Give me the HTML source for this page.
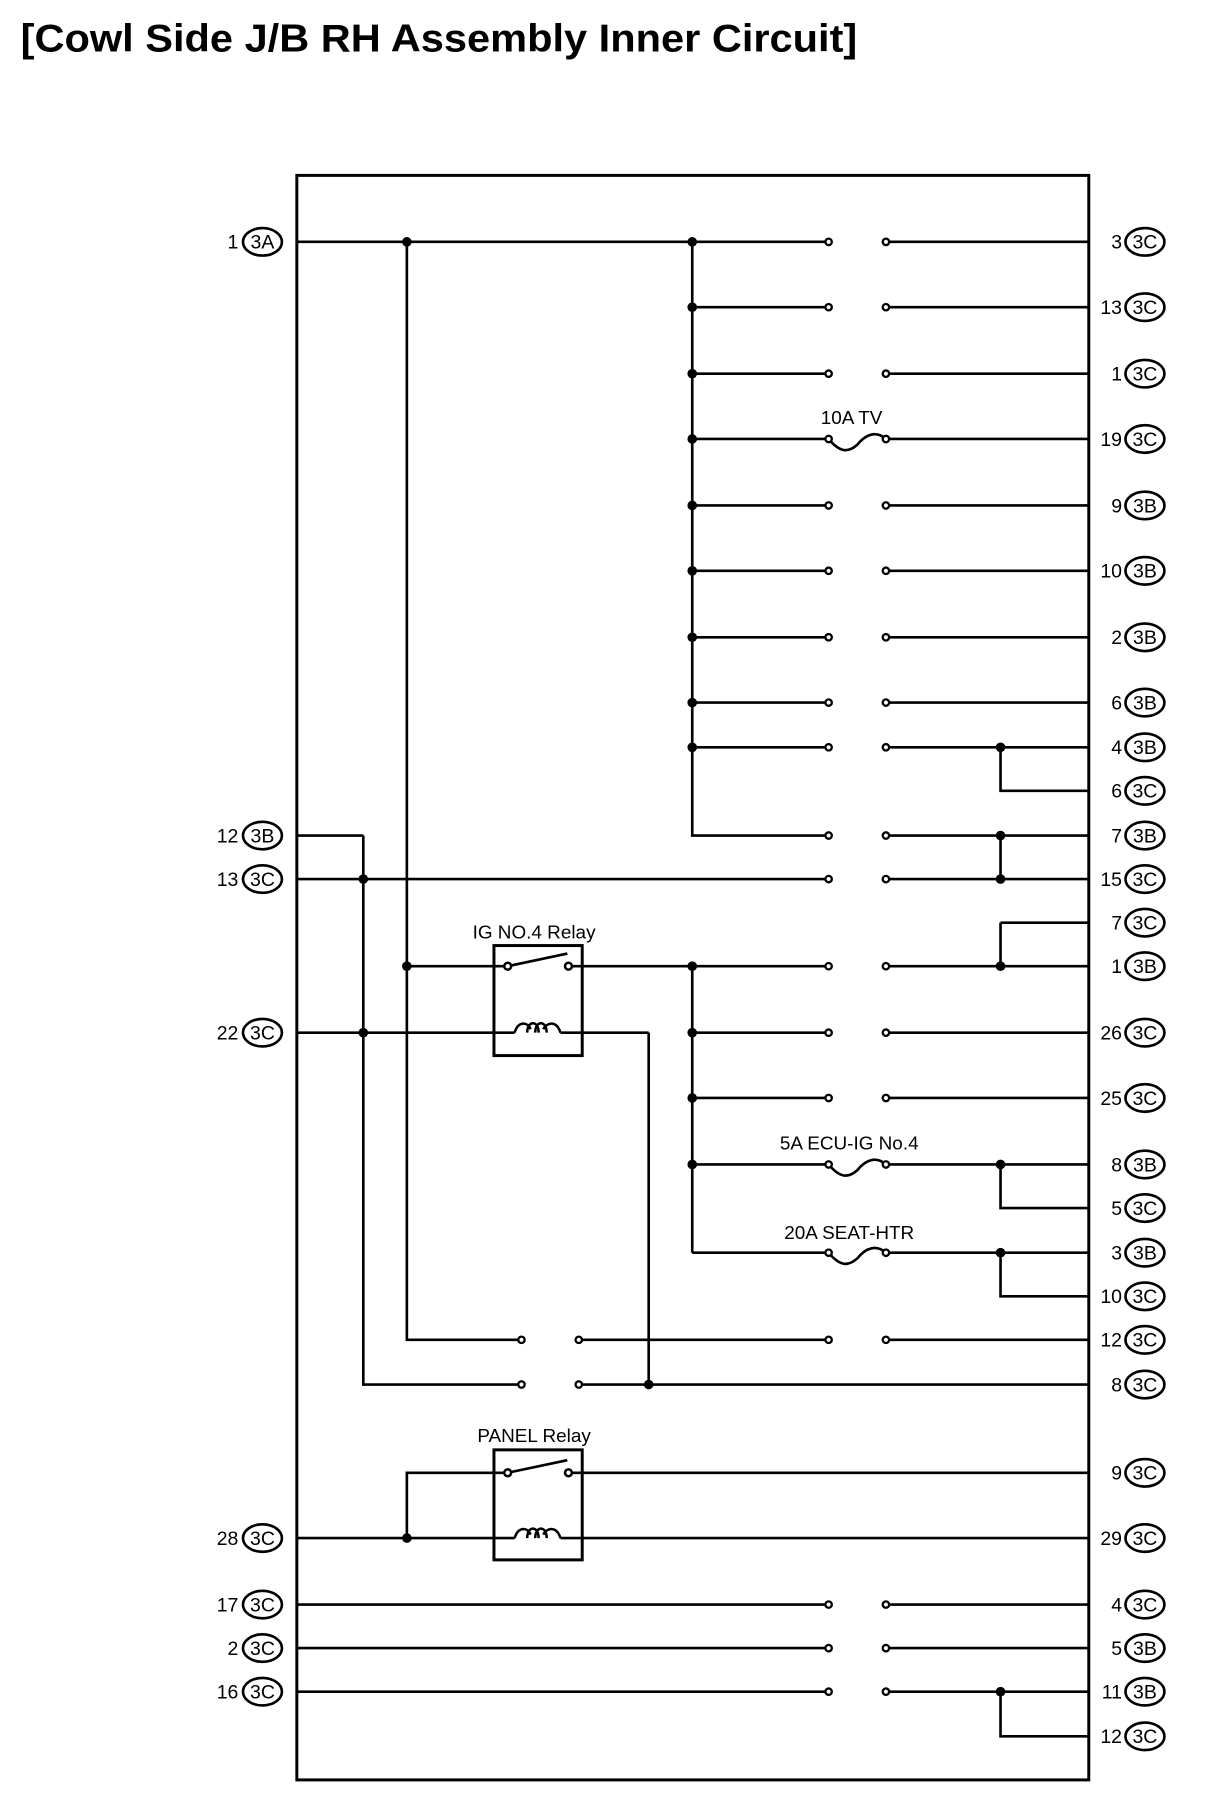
<!DOCTYPE html>
<html><head><meta charset="utf-8"><style>html,body{margin:0;padding:0;background:#fff}svg{display:block}</style></head>
<body>
<svg width="1216" height="1796" viewBox="0 0 1061 1567" xmlns="http://www.w3.org/2000/svg" font-family="Liberation Sans, sans-serif">
<text x="18" y="45" font-size="34" font-weight="bold" textLength="730" lengthAdjust="spacingAndGlyphs">[Cowl Side J/B RH Assembly Inner Circuit]</text>
<rect x="259" y="153" width="691" height="1400" fill="none" stroke="#000" stroke-width="2.6"/>
<g stroke="#000" stroke-width="2.3" fill="none">
<path d="M604 211V729H723"/>
<path d="M355 211V1169H455"/>
<path d="M317 729V1208H455"/>
<path d="M259 729H317"/>
<path d="M566 901V1208"/>
<path d="M604 843V1093"/>
<path d="M259 211H723M773 211H950"/>
<path d="M604 268H723M773 268H950"/>
<path d="M604 326H723M773 326H950"/>
<path d="M604 383H723M773 383H950"/>
<path d="M723 383C733 395 740 395 748 388C756 378 765 376 773 383"/>
<path d="M604 441H723M773 441H950"/>
<path d="M604 498H723M773 498H950"/>
<path d="M604 556H723M773 556H950"/>
<path d="M604 613H723M773 613H950"/>
<path d="M604 652H723M773 652H950M873 652V690H950"/>
<path d="M773 729H950M873 729V767"/>
<path d="M259 767H723M773 767H950"/>
<path d="M873 805H950M873 805V843"/>
<path d="M355 843H443M496 843H723M773 843H950"/>
<path d="M443 843L495 832"/>
<path d="M259 901H449M489 901H566"/>
<path d="M604 901H723M773 901H950"/>
<path d="M604 958H723M773 958H950"/>
<path d="M604 1016H723M773 1016H950M873 1016V1054H950"/>
<path d="M723 1016C733 1028 740 1028 748 1021C756 1011 765 1009 773 1016"/>
<path d="M604 1093H723M773 1093H950M873 1093V1131H950"/>
<path d="M723 1093C733 1105 740 1105 748 1098C756 1088 765 1086 773 1093"/>
<path d="M505 1169H723M773 1169H950"/>
<path d="M505 1208H950"/>
<path d="M355 1342V1285H443M443 1285L495 1274M496 1285H950"/>
<path d="M259 1342H449M489 1342H950"/>
<path d="M259 1400H723M773 1400H950"/>
<path d="M259 1438H723M773 1438H950"/>
<path d="M259 1476H723M773 1476H950M873 1476V1515H950"/>
</g>
<g stroke="#000" stroke-width="2.6" fill="none">
<rect x="431" y="825" width="77" height="96"/>
<rect x="431" y="1265" width="77" height="96"/>
</g>
<g stroke="#000" stroke-width="2.2" fill="#fff">
<path d="M449 901C452 891 460 891 463 898M460 901C460 890 470 890 470 901M467 901C467 890 477 890 477 901M474 898C478 891 486 891 489 901" fill="none"/>
<path d="M449 1342C452 1332 460 1332 463 1339M460 1342C460 1331 470 1331 470 1342M467 1342C467 1331 477 1331 477 1342M474 1339C478 1332 486 1332 489 1342" fill="none"/>
<circle cx="443" cy="843" r="3"/><circle cx="496" cy="843" r="3"/>
<circle cx="443" cy="1285" r="3"/><circle cx="496" cy="1285" r="3"/>
</g>
<g stroke="#000" stroke-width="2" fill="#fff">
<circle cx="723" cy="211" r="2.8"/><circle cx="773" cy="211" r="2.8"/>
<circle cx="723" cy="268" r="2.8"/><circle cx="773" cy="268" r="2.8"/>
<circle cx="723" cy="326" r="2.8"/><circle cx="773" cy="326" r="2.8"/>
<circle cx="723" cy="383" r="2.8"/><circle cx="773" cy="383" r="2.8"/>
<circle cx="723" cy="441" r="2.8"/><circle cx="773" cy="441" r="2.8"/>
<circle cx="723" cy="498" r="2.8"/><circle cx="773" cy="498" r="2.8"/>
<circle cx="723" cy="556" r="2.8"/><circle cx="773" cy="556" r="2.8"/>
<circle cx="723" cy="613" r="2.8"/><circle cx="773" cy="613" r="2.8"/>
<circle cx="723" cy="652" r="2.8"/><circle cx="773" cy="652" r="2.8"/>
<circle cx="723" cy="729" r="2.8"/><circle cx="773" cy="729" r="2.8"/>
<circle cx="723" cy="767" r="2.8"/><circle cx="773" cy="767" r="2.8"/>
<circle cx="723" cy="843" r="2.8"/><circle cx="773" cy="843" r="2.8"/>
<circle cx="723" cy="901" r="2.8"/><circle cx="773" cy="901" r="2.8"/>
<circle cx="723" cy="958" r="2.8"/><circle cx="773" cy="958" r="2.8"/>
<circle cx="723" cy="1016" r="2.8"/><circle cx="773" cy="1016" r="2.8"/>
<circle cx="723" cy="1093" r="2.8"/><circle cx="773" cy="1093" r="2.8"/>
<circle cx="455" cy="1169" r="2.8"/><circle cx="505" cy="1169" r="2.8"/>
<circle cx="723" cy="1169" r="2.8"/><circle cx="773" cy="1169" r="2.8"/>
<circle cx="455" cy="1208" r="2.8"/><circle cx="505" cy="1208" r="2.8"/>
<circle cx="723" cy="1400" r="2.8"/><circle cx="773" cy="1400" r="2.8"/>
<circle cx="723" cy="1438" r="2.8"/><circle cx="773" cy="1438" r="2.8"/>
<circle cx="723" cy="1476" r="2.8"/><circle cx="773" cy="1476" r="2.8"/>
</g>
<g fill="#000">
<circle cx="355" cy="211" r="4.2"/><circle cx="604" cy="211" r="4.2"/>
<circle cx="604" cy="268" r="4.2"/><circle cx="604" cy="326" r="4.2"/><circle cx="604" cy="383" r="4.2"/>
<circle cx="604" cy="441" r="4.2"/><circle cx="604" cy="498" r="4.2"/><circle cx="604" cy="556" r="4.2"/>
<circle cx="604" cy="613" r="4.2"/><circle cx="604" cy="652" r="4.2"/><circle cx="873" cy="652" r="4.2"/>
<circle cx="873" cy="729" r="4.2"/><circle cx="873" cy="767" r="4.2"/><circle cx="317" cy="767" r="4.2"/>
<circle cx="355" cy="843" r="4.2"/><circle cx="604" cy="843" r="4.2"/><circle cx="873" cy="843" r="4.2"/>
<circle cx="317" cy="901" r="4.2"/><circle cx="604" cy="901" r="4.2"/><circle cx="604" cy="958" r="4.2"/>
<circle cx="604" cy="1016" r="4.2"/><circle cx="873" cy="1016" r="4.2"/><circle cx="873" cy="1093" r="4.2"/>
<circle cx="566" cy="1208" r="4.2"/><circle cx="355" cy="1342" r="4.2"/><circle cx="873" cy="1476" r="4.2"/>
</g>
<g font-size="16.5" text-anchor="middle">
<text x="743" y="370">10A TV</text>
<text x="466" y="819">IG NO.4 Relay</text>
<text x="741" y="1003">5A ECU-IG No.4</text>
<text x="741" y="1081">20A SEAT-HTR</text>
<text x="466" y="1258">PANEL Relay</text>
</g>
<g stroke="#000" stroke-width="2.3" fill="#fff">
<ellipse cx="229" cy="211" rx="17" ry="12"/><ellipse cx="229" cy="729" rx="17" ry="12"/>
<ellipse cx="229" cy="767" rx="17" ry="12"/><ellipse cx="229" cy="901" rx="17" ry="12"/>
<ellipse cx="229" cy="1342" rx="17" ry="12"/><ellipse cx="229" cy="1400" rx="17" ry="12"/>
<ellipse cx="229" cy="1438" rx="17" ry="12"/><ellipse cx="229" cy="1476" rx="17" ry="12"/>
<ellipse cx="999" cy="211" rx="17" ry="12"/><ellipse cx="999" cy="268" rx="17" ry="12"/>
<ellipse cx="999" cy="326" rx="17" ry="12"/><ellipse cx="999" cy="383" rx="17" ry="12"/>
<ellipse cx="999" cy="441" rx="17" ry="12"/><ellipse cx="999" cy="498" rx="17" ry="12"/>
<ellipse cx="999" cy="556" rx="17" ry="12"/><ellipse cx="999" cy="613" rx="17" ry="12"/>
<ellipse cx="999" cy="652" rx="17" ry="12"/><ellipse cx="999" cy="690" rx="17" ry="12"/>
<ellipse cx="999" cy="729" rx="17" ry="12"/><ellipse cx="999" cy="767" rx="17" ry="12"/>
<ellipse cx="999" cy="805" rx="17" ry="12"/><ellipse cx="999" cy="843" rx="17" ry="12"/>
<ellipse cx="999" cy="901" rx="17" ry="12"/><ellipse cx="999" cy="958" rx="17" ry="12"/>
<ellipse cx="999" cy="1016" rx="17" ry="12"/><ellipse cx="999" cy="1054" rx="17" ry="12"/>
<ellipse cx="999" cy="1093" rx="17" ry="12"/><ellipse cx="999" cy="1131" rx="17" ry="12"/>
<ellipse cx="999" cy="1169" rx="17" ry="12"/><ellipse cx="999" cy="1208" rx="17" ry="12"/>
<ellipse cx="999" cy="1285" rx="17" ry="12"/><ellipse cx="999" cy="1342" rx="17" ry="12"/>
<ellipse cx="999" cy="1400" rx="17" ry="12"/><ellipse cx="999" cy="1438" rx="17" ry="12"/>
<ellipse cx="999" cy="1476" rx="17" ry="12"/><ellipse cx="999" cy="1515" rx="17" ry="12"/>
</g>
<g font-size="17" text-anchor="middle">
<text x="229" y="217">3A</text><text x="229" y="735">3B</text><text x="229" y="773">3C</text>
<text x="229" y="907">3C</text><text x="229" y="1348">3C</text><text x="229" y="1406">3C</text>
<text x="229" y="1444">3C</text><text x="229" y="1482">3C</text>
<text x="999" y="217">3C</text><text x="999" y="274">3C</text><text x="999" y="332">3C</text>
<text x="999" y="389">3C</text><text x="999" y="447">3B</text><text x="999" y="504">3B</text>
<text x="999" y="562">3B</text><text x="999" y="619">3B</text><text x="999" y="658">3B</text>
<text x="999" y="696">3C</text><text x="999" y="735">3B</text><text x="999" y="773">3C</text>
<text x="999" y="811">3C</text><text x="999" y="849">3B</text><text x="999" y="907">3C</text>
<text x="999" y="964">3C</text><text x="999" y="1022">3B</text><text x="999" y="1060">3C</text>
<text x="999" y="1099">3B</text><text x="999" y="1137">3C</text><text x="999" y="1175">3C</text>
<text x="999" y="1214">3C</text><text x="999" y="1291">3C</text><text x="999" y="1348">3C</text>
<text x="999" y="1406">3C</text><text x="999" y="1444">3B</text><text x="999" y="1482">3B</text>
<text x="999" y="1521">3C</text>
</g>
<g font-size="17" text-anchor="end">
<text x="208" y="217">1</text><text x="208" y="735">12</text><text x="208" y="773">13</text>
<text x="208" y="907">22</text><text x="208" y="1348">28</text><text x="208" y="1406">17</text>
<text x="208" y="1444">2</text><text x="208" y="1482">16</text>
<text x="979" y="217">3</text><text x="979" y="274">13</text><text x="979" y="332">1</text>
<text x="979" y="389">19</text><text x="979" y="447">9</text><text x="979" y="504">10</text>
<text x="979" y="562">2</text><text x="979" y="619">6</text><text x="979" y="658">4</text>
<text x="979" y="696">6</text><text x="979" y="735">7</text><text x="979" y="773">15</text>
<text x="979" y="811">7</text><text x="979" y="849">1</text><text x="979" y="907">26</text>
<text x="979" y="964">25</text><text x="979" y="1022">8</text><text x="979" y="1060">5</text>
<text x="979" y="1099">3</text><text x="979" y="1137">10</text><text x="979" y="1175">12</text>
<text x="979" y="1214">8</text><text x="979" y="1291">9</text><text x="979" y="1348">29</text>
<text x="979" y="1406">4</text><text x="979" y="1444">5</text><text x="979" y="1482">11</text>
<text x="979" y="1521">12</text>
</g>
</svg>
</body></html>
